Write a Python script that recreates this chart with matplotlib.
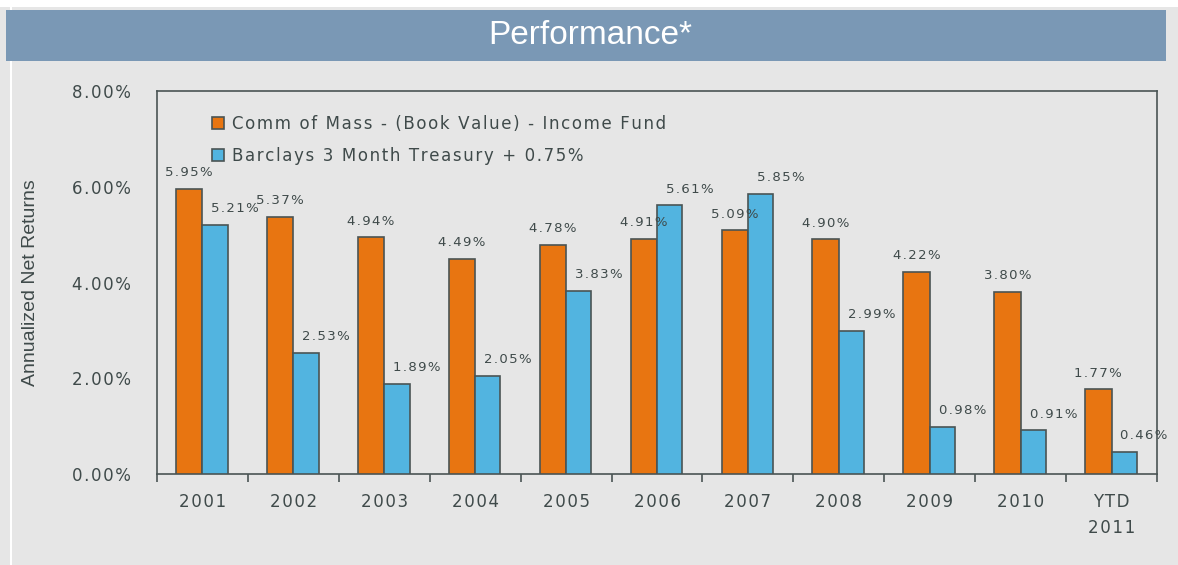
import matplotlib
matplotlib.use("Agg")
import matplotlib.pyplot as plt
from matplotlib.patches import Rectangle
import numpy as np

categories = ["2001", "2002", "2003", "2004", "2005", "2006", "2007", "2008", "2009", "2010", "YTD\n2011"]
comm_mass = [5.95, 5.37, 4.94, 4.49, 4.78, 4.91, 5.09, 4.90, 4.22, 3.80, 1.77]
barclays = [5.21, 2.53, 1.89, 2.05, 3.83, 5.61, 5.85, 2.99, 0.98, 0.91, 0.46]
series_names = ["Comm of Mass - (Book Value) - Income Fund", "Barclays 3 Month Treasury + 0.75%"]
yticks = [0, 2, 4, 6, 8]

W, H = 1178, 565
BG = "#e6e6e6"
ORANGE = "#e87511"
BLUE = "#52b4e0"
EDGE = "#4a5454"
TXT = "#3f4a4a"


def sp(s):
    # letter-spaced text (hair spaces between characters)
    return "\n".join("\u200a".join(line) for line in s.split("\n"))


fig = plt.figure(figsize=(W / 100, H / 100), dpi=100, facecolor=BG)

fig.patches.append(Rectangle((0, 1 - 7 / H), 1, 7 / H, transform=fig.transFigure, facecolor="white", edgecolor="none", zorder=0))
fig.patches.append(Rectangle((10 / W, 0), 2 / W, 1 - 7 / H, transform=fig.transFigure, facecolor="white", edgecolor="none", zorder=0))
fig.patches.append(Rectangle((6 / W, 1 - 61 / H), 1160 / W, 51 / H, transform=fig.transFigure, facecolor="#7a98b5", edgecolor="none", zorder=1))
fig.text(590 / W, 1 - 36 / H, "Performance*", color="white", fontsize=24, ha="center", va="center",
         family=["Liberation Sans", "DejaVu Sans"], zorder=2)

ax = fig.add_axes([157 / W, 1 - 474 / H, 1000 / W, 383 / H])
ax.set_facecolor(BG)
x = np.arange(len(categories))
bw = 0.29
ax.bar(x - bw, comm_mass, width=bw, align="edge", color=ORANGE, edgecolor=EDGE, linewidth=1.2, label=sp(series_names[0]), zorder=3)
ax.bar(x, barclays, width=bw * 0.96, align="edge", color=BLUE, edgecolor=EDGE, linewidth=1.2, label=sp(series_names[1]), zorder=3)

for xi, v in zip(x, comm_mass):
    ax.annotate(sp(f"{v:.2f}%"), (xi - bw / 2, v), xytext=(0, 7), textcoords="offset points",
                ha="center", va="bottom", fontsize=9.5, color=TXT)
for xi, v in zip(x, barclays):
    ax.annotate(sp(f"{v:.2f}%"), (xi + bw / 2, v), xytext=(14, 7), textcoords="offset points",
                ha="center", va="bottom", fontsize=9.5, color=TXT)

ax.set_xlim(-0.5, len(categories) - 0.5)
ax.set_ylim(0, 8)
ax.set_yticks(yticks)
ax.set_yticklabels([sp(f"{t:.2f}%") for t in yticks], fontsize=12, color=TXT)
ax.tick_params(axis="y", length=0, pad=19)
ax.set_xticks(x)
ax.set_xticklabels([sp(c) for c in categories], fontsize=12, color=TXT, linespacing=1.55)
ax.tick_params(axis="x", length=0, pad=14)
ax.set_xticks(np.arange(len(categories) + 1) - 0.5, minor=True)
ax.tick_params(axis="x", which="minor", length=6, width=1.2, color=EDGE, direction="out")
for s in ax.spines.values():
    s.set_color(EDGE)
    s.set_linewidth(1.2)

ax.set_ylabel("Annualized Net Returns", fontsize=14, color=TXT, family=["Liberation Sans", "DejaVu Sans"],
              labelpad=0)
ax.yaxis.set_label_coords(-118 / 1000, 0.5)

leg = ax.legend(loc="upper left", bbox_to_anchor=(0.048, 0.956), frameon=False, fontsize=12,
                handlelength=0.75, handleheight=0.75, handletextpad=0.5, labelspacing=0.85, borderaxespad=0)
for t in leg.get_texts():
    t.set_color(TXT)

fig.savefig("out.png", dpi=100, facecolor=BG)
